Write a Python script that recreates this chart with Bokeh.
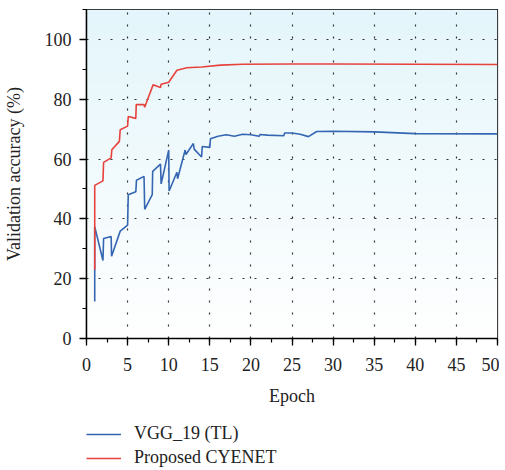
import numpy as np
from bokeh.plotting import figure
from bokeh.layouts import column
from bokeh.models import (SingleIntervalTicker, Legend, LegendItem, Range1d)
from bokeh.embed import file_html
from bokeh.resources import INLINE

# Data
vgg_epoch = [1.0, 1.0, 2.0, 2.08, 3.0, 3.05, 4.1, 5.0, 5.08, 6.0, 6.08, 7.0, 7.08, 8.0, 8.05,
             9.0, 9.08, 10.0, 10.05, 11.0, 11.08, 12.0, 12.1, 13.0, 13.1, 14.0, 14.08, 15.0,
             15.08, 16, 17, 18, 19, 20, 21, 21.1, 22, 24, 24.1, 25, 26, 27, 28, 30, 35, 40, 50]
vgg_acc = [12.4, 37.4, 26.1, 33.4, 34.1, 27.5, 35.9, 37.9, 48.1, 49.1, 52.9, 54.2, 43.2, 48.1, 55.9,
           58.3, 51.7, 63.0, 49.3, 55.6, 53.4, 63.0, 61.5, 65.2, 63.3, 60.7, 64.2, 63.9,
           66.8, 67.6, 68.1, 67.6, 68.3, 68.1, 67.6, 68.2, 68.0, 67.8, 68.7, 68.7, 68.3, 67.5, 69.2,
           69.3, 69.1, 68.5, 68.4]

cye_epoch = [1.0, 1.0, 2.0, 2.08, 3.0, 3.08, 4.0, 4.1, 5.0, 5.08, 6.0, 6.05, 7.0, 7.08, 8.1,
             9.0, 9.08, 10.0, 11.0, 12.2, 14, 16.3, 19, 25, 30, 40, 50]
cye_acc = [23.0, 51.2, 52.7, 58.9, 60.4, 63.1, 65.9, 69.8, 71.0, 74.2, 73.6, 78.2, 78.2, 77.3, 84.8,
           83.9, 85.0, 85.7, 89.7, 90.5, 90.8, 91.4, 91.7, 91.8, 91.8, 91.7, 91.6]

series_labels = ["VGG_19 (TL)", "Proposed CYENET"]
series_colors = ["#3466b2", "#e8423c"]

x_ticks_interval = 5
y_ticks_interval = 20

FONT = "Liberation Serif"
FS = "18px"

p = figure(width=499, height=408, output_backend="svg", toolbar_location=None,
           x_range=Range1d(0, 50), y_range=Range1d(0, 110),
           min_border_top=9, min_border_right=2, min_border_left=86, min_border_bottom=68)

# background gradient (decoration)
h = 200
top = np.array([228, 246, 251], dtype=float)
bot = np.array([255, 255, 255], dtype=float)
t = np.linspace(0, 1, h)[:, None]  # row 0 is bottom
cols = bot + (top - bot) * t
img = np.zeros((h, 1), dtype=np.uint32)
view = img.view(dtype=np.uint8).reshape((h, 1, 4))
view[:, 0, 0] = cols[:, 0].astype(np.uint8)
view[:, 0, 1] = cols[:, 1].astype(np.uint8)
view[:, 0, 2] = cols[:, 2].astype(np.uint8)
view[:, 0, 3] = 255
p.image_rgba(image=[img], x=0, y=0, dw=50, dh=110, level="image")

p.outline_line_color = "black"
p.outline_line_width = 1.2
p.background_fill_color = "white"

for ax in (p.xaxis, p.yaxis):
    ax.axis_line_width = 1.5
    ax.axis_line_color = "black"
    ax.major_tick_line_width = 1.3
    ax.minor_tick_line_width = 1.2
    ax.major_tick_out = 7
    ax.major_tick_in = 0
    ax.minor_tick_out = 4
    ax.minor_tick_in = 0
    ax.major_label_text_font = FONT
    ax.major_label_text_font_size = FS
    ax.major_label_text_color = "#222222"
    ax.axis_label_text_font = FONT
    ax.axis_label_text_font_size = FS
    ax.axis_label_text_font_style = "normal"
    ax.axis_label_text_color = "#222222"

p.xaxis.ticker = SingleIntervalTicker(interval=x_ticks_interval, num_minor_ticks=2)
p.yaxis.ticker = SingleIntervalTicker(interval=y_ticks_interval, num_minor_ticks=2)
p.xaxis.axis_label = "Epoch"
p.yaxis.axis_label = "Validation accuracy (%)"
p.xaxis.major_label_standoff = 12
p.yaxis.major_label_standoff = 8
p.xaxis.axis_label_standoff = 12
p.yaxis.axis_label_standoff = 18

for g in (p.xgrid, p.ygrid):
    g.grid_line_color = "#333333"
    g.grid_line_dash = "2 10"
    g.grid_line_width = 1.2
p.xgrid.ticker = SingleIntervalTicker(interval=x_ticks_interval)
p.ygrid.ticker = SingleIntervalTicker(interval=y_ticks_interval)

r1 = p.line(vgg_epoch, vgg_acc, line_color=series_colors[0], line_width=1.6)
r2 = p.line(cye_epoch, cye_acc, line_color=series_colors[1], line_width=1.6)

# legend strip below the chart (its lines lie outside its visible range)
lg = figure(width=499, height=60, output_backend="svg", toolbar_location=None,
            x_range=Range1d(0, 50), y_range=Range1d(1000, 1001),
            min_border_top=0, min_border_right=2, min_border_left=86, min_border_bottom=0)
lg.axis.visible = False
lg.grid.visible = False
lg.outline_line_color = None
lg.background_fill_color = "white"
l1 = lg.line(vgg_epoch, vgg_acc, line_color=series_colors[0], line_width=1.6)
l2 = lg.line(cye_epoch, cye_acc, line_color=series_colors[1], line_width=1.6)
items = [LegendItem(label=series_labels[0], renderers=[l1]),
         LegendItem(label=series_labels[1], renderers=[l2])]

legend = Legend(items=items, location=(0, 0), orientation="vertical",
                margin=0, padding=0, spacing=3,
                glyph_width=35, glyph_height=20, label_standoff=13,
                label_text_font=FONT, label_text_font_size=FS,
                label_text_color="#222222", label_height=20,
                border_line_color=None, background_fill_alpha=0)
lg.add_layout(legend, "center")

layout = column(p, lg, spacing=0)
open("out.html", "w").write(file_html(layout, INLINE))
